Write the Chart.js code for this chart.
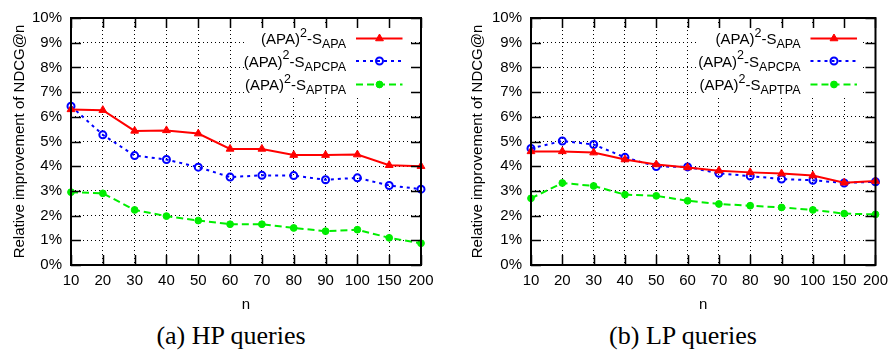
<!DOCTYPE html>
<html>
<head>
<meta charset="utf-8">
<script src="https://cdn.jsdelivr.net/npm/chart.js@4.4.1/dist/chart.umd.min.js"></script>
<style>
  html, body { margin:0; padding:0; background:#fff; }
  body { width:895px; height:356px; position:relative; overflow:hidden; }
  canvas { position:absolute; top:0; }
  #c_hp { left:0; }
  #c_lp { left:445px; }
  .cap { position:absolute; top:320px; width:300px; text-align:center; font-family:'Liberation Serif', 'Times New Roman', serif; font-size:26px; line-height:32px; color:#000; }
</style>
</head>
<body>
<canvas id="c_hp" width="445" height="320"></canvas>
<canvas id="c_lp" width="450" height="320"></canvas>
<div class="cap" style="left:81px;">(a) HP queries</div>
<div class="cap" style="left:533px;">(b) LP queries</div>
<script>
const nLabels = ['10', '20', '30', '40', '50', '60', '70', '80', '90', '100', '150', '200'];
const seriesNames = ['APA', 'APCPA', 'APTPA'];

// HP queries
const hpApa   = [6.30, 6.27, 5.43, 5.45, 5.32, 4.70, 4.70, 4.45, 4.45, 4.47, 4.04, 4.00];
const hpApcpa = [6.43, 5.27, 4.43, 4.27, 3.96, 3.56, 3.63, 3.62, 3.45, 3.53, 3.22, 3.07];
const hpAptpa = [2.95, 2.90, 2.23, 1.98, 1.80, 1.65, 1.65, 1.50, 1.37, 1.43, 1.10, 0.88];

// LP queries
const lpApa   = [4.60, 4.60, 4.55, 4.27, 4.07, 3.95, 3.82, 3.75, 3.70, 3.62, 3.33, 3.40];
const lpApcpa = [4.72, 5.02, 4.88, 4.36, 3.99, 3.97, 3.71, 3.60, 3.48, 3.43, 3.32, 3.37];
const lpAptpa = [2.70, 3.32, 3.20, 2.85, 2.80, 2.60, 2.47, 2.40, 2.33, 2.23, 2.08, 2.05];

const FONT = "'Liberation Sans', Arial, Helvetica, sans-serif";
const RED = '#ff0000', BLUE = '#0000ff', GREEN = '#00ee00';

const styles = [
  { color: RED,   dash: [],     point: 'triangle', r: 4.5, bw: 1, fill: RED },
  { color: BLUE,  dash: [3, 4], point: 'circle',   r: 3.5, bw: 2, fill: 'rgba(0,0,0,0)' },
  { color: GREEN, dash: [7, 4], point: 'circle',   r: 3.4, bw: 1, fill: GREEN }
];

function drawMarker(ctx, st, x, y) {
  ctx.save();
  ctx.setLineDash([]);
  ctx.strokeStyle = st.color;
  ctx.fillStyle = st.fill;
  ctx.lineWidth = st.bw;
  ctx.beginPath();
  if (st.point === 'triangle') {
    let r = st.r;
    ctx.moveTo(x, y - r);
    ctx.lineTo(x + r * 0.866, y + r * 0.5);
    ctx.lineTo(x - r * 0.866, y + r * 0.5);
    ctx.closePath();
  } else {
    ctx.arc(x, y, st.r, 0, Math.PI * 2);
  }
  ctx.fill();
  ctx.stroke();
  ctx.restore();
}

// gnuplot style frame: white key box, border, inward ticks, key entries
const gnuFrame = {
  id: 'gnuFrame',
  beforeDatasetsDraw(chart) {
    const a = chart.chartArea, ctx = chart.ctx;
    ctx.save();
    ctx.fillStyle = '#fff';
    ctx.fillRect(a.right - 177, a.top + 6, 164, 73);
    ctx.restore();
  },
  afterDraw(chart) {
    const a = chart.chartArea, ctx = chart.ctx;
    const xs = chart.scales.x, ys = chart.scales.y;
    ctx.save();
    ctx.strokeStyle = '#000';
    ctx.lineWidth = 1.5;
    ctx.setLineDash([]);
    ctx.beginPath();
    xs.ticks.forEach((t, i) => {
      let px = Math.round(xs.getPixelForTick(i)) + 0.5;
      ctx.moveTo(px, a.bottom); ctx.lineTo(px, a.bottom - 10);
      ctx.moveTo(px, a.top); ctx.lineTo(px, a.top + 10);
    });
    ys.ticks.forEach(t => {
      let py = Math.round(ys.getPixelForValue(t.value)) + 0.5;
      ctx.moveTo(a.left, py); ctx.lineTo(a.left + 10, py);
      ctx.moveTo(a.right, py); ctx.lineTo(a.right - 10, py);
    });
    ctx.stroke();
    ctx.lineWidth = 2;
    ctx.strokeRect(a.left, a.top, a.right - a.left, a.bottom - a.top);

    // key
    const rows = [a.top + 20.5, a.top + 43, a.top + 66.5];
    const textEnd = a.right - 75;
    rows.forEach((y, i) => {
      const st = styles[i];
      const sub = seriesNames[i];
      ctx.fillStyle = '#000';
      ctx.textBaseline = 'alphabetic';
      ctx.textAlign = 'left';
      ctx.font = '15px ' + FONT;
      let w1 = ctx.measureText('(APA)').width;
      let w3 = ctx.measureText('-S').width;
      ctx.font = '12.5px ' + FONT;
      let w2 = ctx.measureText('2').width;
      let w4 = ctx.measureText(sub).width;
      let x = textEnd - (w1 + w2 + w3 + w4);
      ctx.font = '15px ' + FONT;
      ctx.fillText('(APA)', x, y + 5.5); x += w1;
      ctx.font = '12.5px ' + FONT;
      ctx.fillText('2', x, y - 2); x += w2;
      ctx.font = '15px ' + FONT;
      ctx.fillText('-S', x, y + 5.5); x += w3;
      ctx.font = '12.5px ' + FONT;
      ctx.fillText(sub, x, y + 9.5);

      ctx.strokeStyle = st.color;
      ctx.lineWidth = 2;
      ctx.setLineDash(st.dash);
      ctx.beginPath();
      ctx.moveTo(a.right - 65, y); ctx.lineTo(a.right - 18.5, y);
      ctx.stroke();
      drawMarker(ctx, st, a.right - 41.5, y);
    });
    ctx.restore();
  }
};

function makeChart(id, data, geo) {
  const ds = data.map((vals, i) => ({
    label: '(APA)2-S' + seriesNames[i],
    data: vals,
    borderColor: styles[i].color,
    backgroundColor: styles[i].fill,
    borderWidth: 2,
    borderDash: styles[i].dash,
    pointStyle: styles[i].point,
    pointRadius: styles[i].r,
    pointBorderWidth: styles[i].bw,
    pointBorderColor: styles[i].color,
    pointBackgroundColor: styles[i].fill,
    tension: 0,
    fill: false
  }));
  return new Chart(document.getElementById(id).getContext('2d'), {
    type: 'line',
    data: { labels: nLabels, datasets: ds },
    options: {
      responsive: false,
      animation: false,
      events: [],
      layout: { padding: { left: 0, top: 7, right: geo.right, bottom: 0 } },
      plugins: { legend: { display: false }, tooltip: { enabled: false } },
      scales: {
        x: {
          type: 'category',
          offset: false,
          afterFit: s => { s.height = 55; },
          grid: { color: '#000', lineWidth: 1, drawTicks: false, offset: false },
          border: { display: false, dash: [1, 3] },
          ticks: { color: '#000', padding: 7, autoSkip: false, maxRotation: 0, font: { family: FONT, size: 15 } },
          title: { display: true, text: 'n', color: '#000', padding: { top: 0, bottom: 6.5 }, font: { family: FONT, size: 15 } }
        },
        y: {
          min: 0, max: 10,
          afterFit: s => { s.width = geo.yw; },
          grid: { color: '#000', lineWidth: 1, drawTicks: false },
          border: { display: false, dash: [1, 3] },
          ticks: { stepSize: 1, color: '#000', padding: 9, font: { family: FONT, size: 15 }, callback: v => v + '%' },
          title: { display: true, text: 'Relative improvement of NDCG@n', color: '#000', padding: { top: geo.tp, bottom: 0 }, font: { family: FONT, size: 15 } }
        }
      }
    },
    plugins: [gnuFrame]
  });
}

makeChart('c_hp', [hpApa, hpApcpa, hpAptpa], { right: 24, yw: 71, tp: 10.6 });
makeChart('c_lp', [lpApa, lpApcpa, lpAptpa], { right: 15, yw: 86, tp: 23.6 });
</script>
</body>
</html>
